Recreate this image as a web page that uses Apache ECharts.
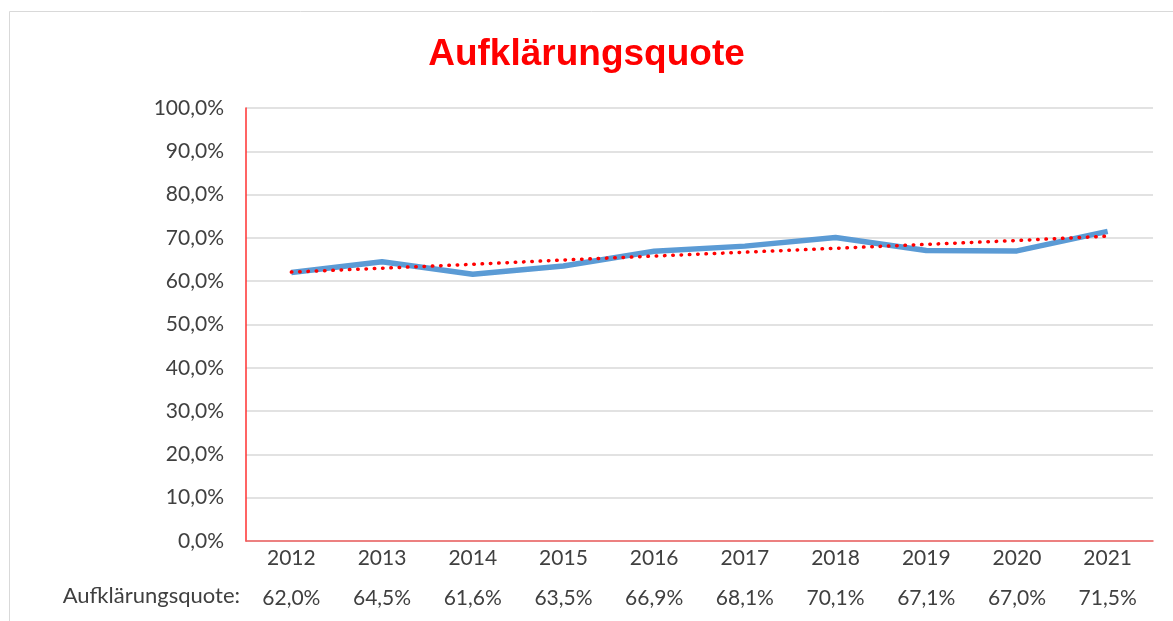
<!DOCTYPE html>
<html>
<head>
<meta charset="utf-8">
<script src="https://cdn.jsdelivr.net/npm/echarts@6/dist/echarts.min.js"></script>
<style>
  html, body { margin: 0; padding: 0; background: #fff; }
  #container1 { width: 1173px; height: 621px; }
</style>
</head>
<body>
<div id="container1"></div>
<script>
var years = ['2012', '2013', '2014', '2015', '2016', '2017', '2018', '2019', '2020', '2021'];
var quote = [62.0, 64.5, 61.6, 63.5, 66.9, 68.1, 70.1, 67.1, 67.0, 71.5];
// trend line
var trend = [62.1, 63.0, 63.9, 64.9, 65.8, 66.7, 67.6, 68.5, 69.4, 70.4];
var yTicks = { min: 0, max: 100, interval: 10 };

function pct(v) {
  return Number(v).toFixed(1).replace('.', ',') + '%';
}

var dom = document.getElementById("container1");
var myChart = echarts.init(dom);
var option = {
  animation: false,
  textStyle: { fontFamily: 'Lato' },
  title: {
    text: 'Aufklärungsquote',
    left: 'center',
    top: 31,
    textStyle: { color: '#ff0000', fontSize: 37, fontWeight: 'bold', fontFamily: 'Liberation Sans' }
  },
  graphic: [{
    type: 'rect',
    shape: { x: 9.5, y: 11.5, width: 1200, height: 700 },
    style: { fill: 'none', stroke: '#d9d9d9', lineWidth: 1 },
    silent: true
  }, {
    type: 'text',
    right: 1173 - 240,
    top: 585,
    style: { text: 'Aufklärungsquote:', fontSize: 22, fill: '#404040', fontFamily: 'Lato' }
  }],
  grid: { left: 246, right: 20, top: 108, bottom: 80 },
  xAxis: [{
    type: 'category',
    data: years,
    axisLine: { lineStyle: { color: '#f06060', width: 1.5 } },
    axisTick: { show: false },
    axisLabel: { color: '#404040', fontSize: 21, margin: 7 }
  }, {
    type: 'category',
    data: quote.map(pct),
    position: 'bottom',
    offset: 40,
    axisLine: { show: false },
    axisTick: { show: false },
    axisLabel: { color: '#404040', fontSize: 21, margin: 7 }
  }],
  yAxis: {
    type: 'value',
    min: yTicks.min,
    max: yTicks.max,
    interval: yTicks.interval,
    axisLine: { show: true, lineStyle: { color: '#ff3030', width: 1.5 } },
    axisTick: { show: false },
    axisLabel: { color: '#404040', fontSize: 21, margin: 22, formatter: pct },
    splitLine: { lineStyle: { color: '#d9d9d9', width: 1.5 } }
  },
  series: [{
    name: 'Aufklärungsquote',
    type: 'line',
    data: quote,
    symbol: 'none',
    lineStyle: { color: '#5b9bd5', width: 5.5 },
    z: 2
  }, {
    name: 'Trend',
    type: 'line',
    data: trend,
    symbol: 'none',
    lineStyle: { color: '#ff0000', width: 3.5, type: [0.5, 7.8], cap: 'round' },
    z: 3
  }]
};
myChart.setOption(option, true);
window.addEventListener("resize", () => {
  myChart.resize();
});
</script>
</body>
</html>
